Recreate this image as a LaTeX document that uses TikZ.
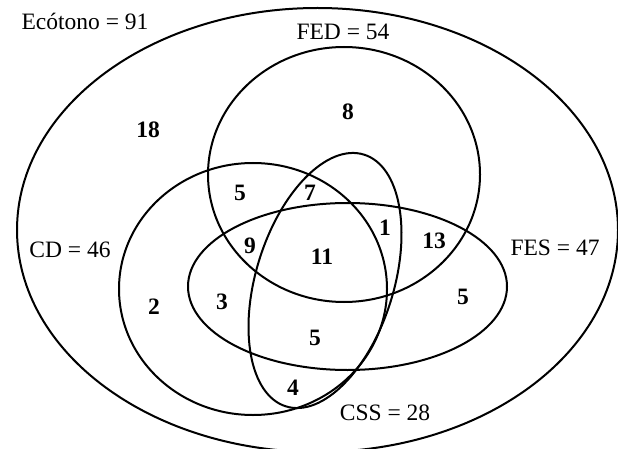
\documentclass[tikz,border=0pt]{standalone}
\usepackage{fontspec}
\setmainfont{Liberation Serif}
\usetikzlibrary{shapes.geometric}
\begin{document}
\begin{tikzpicture}[x=1pt,y=-1pt,
  setshape/.style={draw=black, line width=2pt, ellipse, inner sep=0pt, outer sep=0pt},
  setlabel/.style={font=\fontsize{23.5}{28}\selectfont, inner sep=0pt},
  count/.style={font=\fontsize{23.5}{28}\selectfont\bfseries, inner sep=0pt}]
\useasboundingbox (0,0) rectangle (618,449);
% sets
\node[setshape, minimum width=601pt, minimum height=444pt] (eco) at (317.5,230) {};
\node[setshape, minimum width=272pt, minimum height=255pt] (fed) at (344,174.5) {};
\node[setshape, minimum width=268pt, minimum height=252pt] (cd) at (253,289) {};
\node[setshape, minimum width=319pt, minimum height=167pt] (fes) at (347.5,286.5) {};
\node[setshape, minimum width=263.6pt, minimum height=137.8pt, rotate=72.8] (css) at (325,280.5) {};
% set labels
\node[setlabel] (lEco) at (85,21) {Ecótono = 91};
\node[setlabel] (lFed) at (343,32) {FED = 54};
\node[setlabel] (lCd) at (70,250) {CD = 46};
\node[setlabel] (lFes) at (555,248) {FES = 47};
\node[setlabel] (lCss) at (385,413) {CSS = 28};
% counts
\node[count] (n18) at (148,130) {18};
\node[count] (n8) at (348,112) {8};
\node[count] (n5a) at (240,193) {5};
\node[count] (n7) at (310,193) {7};
\node[count] (n9) at (250,246) {9};
\node[count] (n11) at (322,257) {11};
\node[count] (n1) at (385,228) {1};
\node[count] (n13) at (434,241) {13};
\node[count] (n5b) at (463,297) {5};
\node[count] (n2) at (154,307) {2};
\node[count] (n3) at (222,302) {3};
\node[count] (n5c) at (315,338) {5};
\node[count] (n4) at (293,388) {4};
\end{tikzpicture}
\end{document}
